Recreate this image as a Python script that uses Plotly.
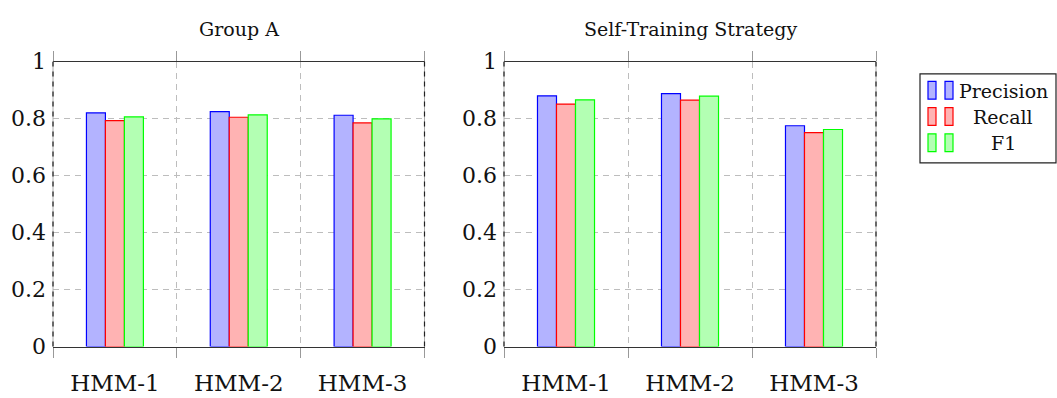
import plotly.graph_objects as go

# Data
models = ["HMM-1", "HMM-2", "HMM-3"]
metrics = ["Precision", "Recall", "F1"]

group_a_precision = [0.820, 0.825, 0.812]
group_a_recall = [0.793, 0.805, 0.785]
group_a_f1 = [0.806, 0.813, 0.799]

self_training_precision = [0.880, 0.888, 0.775]
self_training_recall = [0.851, 0.865, 0.751]
self_training_f1 = [0.866, 0.879, 0.762]

panel_titles = ["Group A", "Self-Training Strategy"]
y_ticks = [0, 0.2, 0.4, 0.6, 0.8, 1]
y_tick_text = ["0", "0.2", "0.4", "0.6", "0.8", "1"]

fills = ["#b3b3ff", "#ffb3b3", "#b3ffb3"]
edges = ["#0000ff", "#ff0000", "#00ff00"]

W, H = 1057, 398
FONT = "DejaVu Serif"


def px_x(p):
    return p / W


def px_y(p):
    return 1 - p / H


fig = go.Figure()

panels = [
    [group_a_precision, group_a_recall, group_a_f1],
    [self_training_precision, self_training_recall, self_training_f1],
]
for i, series in enumerate(panels):
    xa = "x" if i == 0 else "x2"
    ya = "y" if i == 0 else "y2"
    for name, vals, fc, ec in zip(metrics, series, fills, edges):
        fig.add_trace(go.Bar(
            x=models, y=vals, name=name, xaxis=xa, yaxis=ya,
            marker=dict(color=fc, line=dict(color=ec, width=1.2)),
            showlegend=False,
        ))

x_domains = [[px_x(53), px_x(424.5)], [px_x(504), px_x(876)]]
y_domain = [px_y(357), px_y(53)]

axis_common_x = dict(
    type="category", tickson="boundaries", showgrid=True,
    gridcolor="#bdbdbd", griddash="6px,5px", gridwidth=1,
    showline=True, linecolor="#333333", linewidth=1.2, mirror="ticks",
    ticks="outside", ticklen=10, tickcolor="#999999", tickwidth=1,
    ticklabelstandoff=16,
    tickfont=dict(family=FONT, size=23, color="#111111"),
    range=[-0.5, 2.5], fixedrange=True,
)
axis_common_y = dict(
    range=[0, 1], tickvals=y_ticks, ticktext=y_tick_text,
    showgrid=True, gridcolor="#bdbdbd", griddash="6px,5px", gridwidth=1,
    zeroline=False, showline=False, ticks="", ticklabelstandoff=6,
    tickfont=dict(family=FONT, size=22, color="#111111"),
)

layout = dict(
    width=W, height=H,
    margin=dict(l=0, r=0, t=0, b=0),
    paper_bgcolor="white", plot_bgcolor="white",
    font=dict(family=FONT),
    barmode="group", bargap=0.54, bargroupgap=0,
    showlegend=False,
    xaxis=dict(domain=x_domains[0], anchor="y", **axis_common_x),
    xaxis2=dict(domain=x_domains[1], anchor="y2", **axis_common_x),
    yaxis=dict(domain=y_domain, anchor="x", **axis_common_y),
    yaxis2=dict(domain=y_domain, anchor="x2", **axis_common_y),
)

shapes = []
annotations = []
for i, (xd, title) in enumerate(zip(x_domains, panel_titles)):
    xr = "x domain" if i == 0 else "x2 domain"
    yr = "y domain" if i == 0 else "y2 domain"
    for xe in (0, 1):
        # light side border with dark dashes over it
        shapes.append(dict(type="line", xref=xr, yref=yr, x0=xe, x1=xe, y0=0, y1=1,
                           line=dict(color="#aaaaaa", width=1), layer="above"))
        shapes.append(dict(type="line", xref=xr, yref=yr, x0=xe, x1=xe, y0=0, y1=1,
                           line=dict(color="#222222", width=1.2, dash="5px,5px"), layer="above"))
    annotations.append(dict(
        text=title, xref="paper", yref="paper", x=(xd[0] + xd[1]) / 2, y=px_y(18),
        xanchor="center", yanchor="middle", showarrow=False,
        font=dict(family=FONT, size=19, color="#111111"),
    ))

# Legend box
shapes.append(dict(type="rect", xref="paper", yref="paper",
                   x0=px_x(920), x1=px_x(1056), y0=px_y(161), y1=px_y(66),
                   line=dict(color="#222222", width=1.2), fillcolor="white"))
row_centers = [84, 112, 140]
for name, fc, ec, yc in zip(metrics, fills, edges, row_centers):
    for bx in (928, 945):
        shapes.append(dict(type="rect", xref="paper", yref="paper",
                           x0=px_x(bx), x1=px_x(bx + 8),
                           y0=px_y(yc + 9), y1=px_y(yc - 10),
                           line=dict(color=ec, width=1.2), fillcolor=fc))
    annotations.append(dict(
        text=name, xref="paper", yref="paper", x=px_x(1003), y=px_y(yc),
        xanchor="center", yanchor="middle", showarrow=False,
        font=dict(family=FONT, size=19, color="#111111"),
    ))

layout["shapes"] = shapes
layout["annotations"] = annotations
fig.update_layout(**layout)

fig.write_html("out.html")
